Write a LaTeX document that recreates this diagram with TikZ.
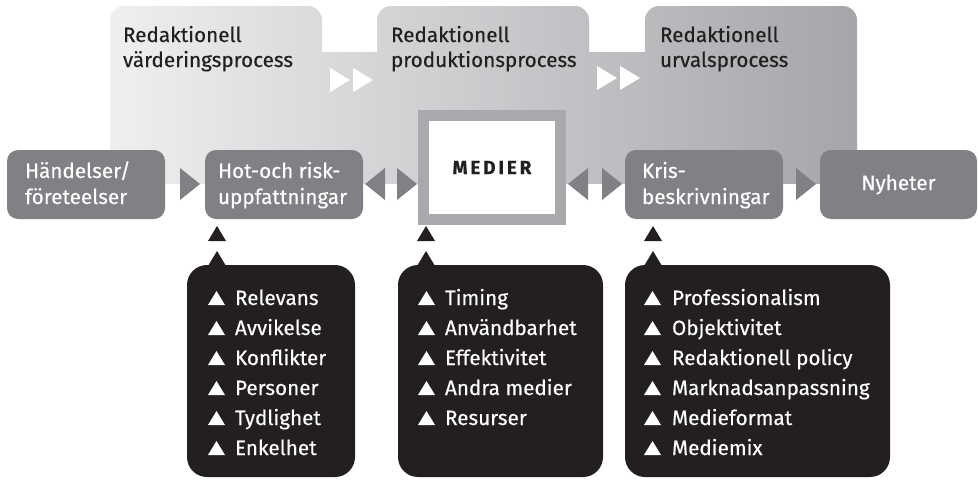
\documentclass[tikz,border=0pt]{standalone}
\usepackage{fontspec}
\setmainfont{Fira Sans}[FakeBold=0.35]
\definecolor{bgL}{RGB}{239,239,240}
\definecolor{bgR}{RGB}{164,166,169}
\definecolor{boxgray}{RGB}{128,129,132}
\definecolor{framegray}{RGB}{167,169,172}
\definecolor{blk}{RGB}{35,31,32}
\newcommand\rtri[3]{\fill[#3] (#1-10,#2-16) -- (#1+10,#2) -- (#1-10,#2+16) -- cycle;}
\newcommand\ltri[3]{\fill[#3] (#1+10,#2-16) -- (#1-10,#2) -- (#1+10,#2+16) -- cycle;}
\newcommand\wtri[2]{\fill[white] (#1-10,#2-12) -- (#1+10,#2) -- (#1-10,#2+12) -- cycle;}
\newcommand\pointer[1]{\fill[blk] (#1-9,241) -- (#1+9,241) -- (#1,226) -- cycle;
  \fill[blk] (#1-9,266) -- (#1,251) -- (#1+9,266) -- cycle;}
\newcommand\litem[5]{\fill[white] (#2-8.5,#4) -- (#2+8.5,#4) -- (#2,#4-14) -- cycle;
  \node[ltext] (#1) at (#3,#4) {#5};}
\begin{document}
\begin{tikzpicture}[x=1pt,y=-1pt,
  every node/.style={inner sep=0pt, outer sep=0pt},
  basefont/.style={font=\fontsize{20.7}{24}\selectfont},
  ptext/.style={basefont, text=blk, anchor=base west},
  gtext/.style={basefont, text=white, anchor=base west},
  ltext/.style={basefont, text=white, anchor=base west},
  gbox/.style={fill=boxgray, rounded corners=11pt, minimum height=69pt},
  bbox/.style={fill=blk, rounded corners=20pt, minimum height=212pt}]
\useasboundingbox (0,0) rectangle (979,479);
% background process panels
\begin{scope}
  \clip (110,0) rectangle (857,183);
  \clip[rounded corners=14pt] (110,6) rectangle (322,240) (377,6) rectangle (589,240)
        (645,6) rectangle (857,240) (90,52) rectangle (880,240);
  \shade[left color=bgL, right color=bgR] (110,0) rectangle (857,183);
\end{scope}
\wtri{340}{80}\wtri{363}{80}
\wtri{607}{78}\wtri{630}{78}
\node[ptext] (p1a) at (123,42) {Redaktionell};
\node[ptext] (p1b) at (123,67) {värderingsprocess};
\node[ptext] (p2a) at (391,42) {Redaktionell};
\node[ptext] (p2b) at (391,67) {produktionsprocess};
\node[ptext] (p3a) at (660,42) {Redaktionell};
\node[ptext] (p3b) at (660,67) {urvalsprocess};
% main row
\node[gbox, minimum width=158pt] (hand) at (86,184.5) {};
\node[gbox, minimum width=158pt] (hot) at (284,184.5) {};
\node[gbox, minimum width=158pt] (kris) at (704,184.5) {};
\node[gbox, minimum width=157pt, text=white, basefont] (nyh) at (898.5,184.5) {Nyheter};
\node[fill=white, draw=framegray, line width=11pt, minimum width=137pt, minimum height=104pt,
  font={\fontsize{19}{22}\selectfont\bfseries\addfontfeature{LetterSpace=15}}, text=blk] (med) at (492,167.5) {MEDIER};
\node[gtext] (handa) at (25,178) {Händelser/};
\node[gtext] (handb) at (25,204) {företeelser};
\node[gtext] (hota) at (218,178) {Hot-och risk-};
\node[gtext] (hotb) at (218,204) {uppfattningar};
\node[gtext] (krisa) at (642,178) {Kris-};
\node[gtext] (krisb) at (642,204) {beskrivningar};
\rtri{190}{184}{boxgray}
\ltri{375}{184}{boxgray}
\rtri{407}{184}{boxgray}
\ltri{578}{184}{boxgray}
\rtri{612}{184}{boxgray}
\rtri{806}{184}{boxgray}
% factor boxes
\node[bbox, minimum width=168pt] (b1) at (271,371) {};
\node[bbox, minimum width=205pt] (b2) at (500.5,371) {};
\node[bbox, minimum width=265pt] (b3) at (757.5,371) {};
\pointer{217}\pointer{426}\pointer{653}
\litem{r1}{216.5}{235}{305}{Relevans}
\litem{r2}{216.5}{235}{335}{Avvikelse}
\litem{r3}{216.5}{235}{365}{Konflikter}
\litem{r4}{216.5}{235}{395}{Personer}
\litem{r5}{216.5}{235}{425}{Tydlighet}
\litem{r6}{216.5}{235}{455}{Enkelhet}
\litem{s1}{426.5}{445}{305}{Timing}
\litem{s2}{426.5}{445}{335}{Användbarhet}
\litem{s3}{426.5}{445}{365}{Effektivitet}
\litem{s4}{426.5}{445}{395}{Andra medier}
\litem{s5}{426.5}{445}{425}{Resurser}
\litem{t1}{652.5}{672}{305}{Professionalism}
\litem{t2}{652.5}{672}{335}{Objektivitet}
\litem{t3}{652.5}{672}{365}{Redaktionell policy}
\litem{t4}{652.5}{672}{395}{Marknadsanpassning}
\litem{t5}{652.5}{672}{425}{Medieformat}
\litem{t6}{652.5}{672}{455}{Mediemix}
\end{tikzpicture}
\end{document}
